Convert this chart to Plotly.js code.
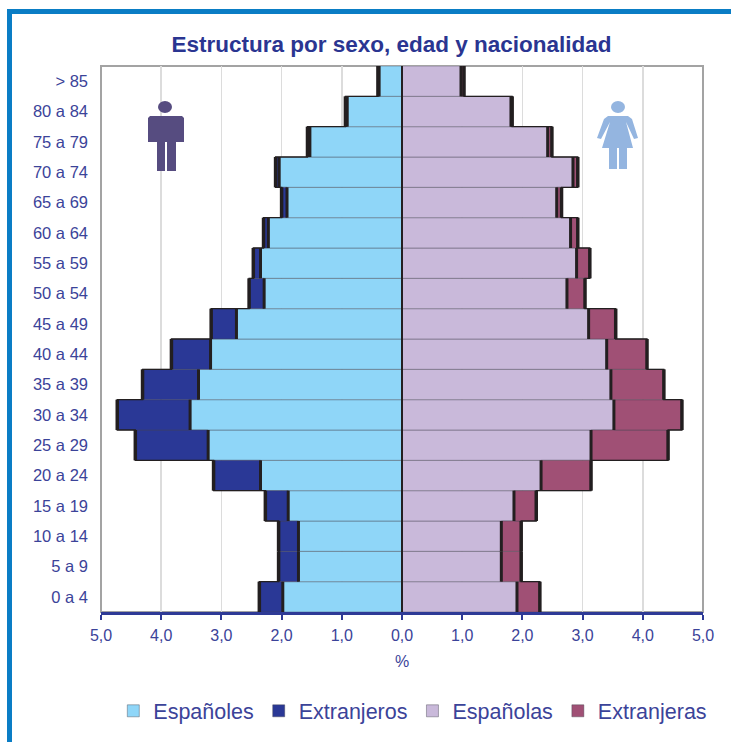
<!DOCTYPE html>
<html><head><meta charset="utf-8">
<script src="https://cdn.plot.ly/plotly-3.0.1.min.js"></script>
<style>
html,body{margin:0;padding:0;background:#fff;width:731px;height:742px;overflow:hidden}
#frame{position:absolute;left:7px;top:9px;width:724px;height:733px;box-sizing:border-box;border-top:5px solid #0a7dc5;border-left:5px solid #0a7dc5}
#plot{position:absolute;left:0;top:0;width:731px;height:742px}
.icon{position:absolute;left:0;top:0;pointer-events:none}
</style></head><body>
<div id="frame"></div>
<div id="plot"></div>
<svg class="icon" width="731" height="742">
  <g fill="#564c80">
    <ellipse cx="165" cy="107" rx="7" ry="6"/>
    <path d="M150 116H182L184 118V142H176V171H167V142H165V171H157V142H148V118Z"/>
  </g>
  <g fill="#94b5e0">
    <ellipse cx="618" cy="107" rx="7" ry="6"/>
    <path d="M608 116H628L632 119L638 138L634 139L626 122L633 148H627V169H619V148H617V169H609V148H602L610 122L601 139L597 138L604 119Z"/>
  </g>
</svg>
<script>
const categories = ['0 a 4','5 a 9','10 a 14','15 a 19','20 a 24','25 a 29','30 a 34','35 a 39','40 a 44','45 a 49','50 a 54','55 a 59','60 a 64','65 a 69','70 a 74','75 a 79','80 a 84','> 85'];
const espanoles   = [1.98,1.72,1.72,1.89,2.35,3.22,3.52,3.38,3.18,2.75,2.29,2.35,2.22,1.91,2.04,1.53,0.91,0.38];
const extranjeros = [0.39,0.33,0.33,0.38,0.78,1.21,1.21,0.93,0.65,0.42,0.25,0.12,0.08,0.09,0.06,0.04,0.03,0.02];
const espanolas   = [1.91,1.65,1.65,1.86,2.31,3.14,3.52,3.47,3.40,3.10,2.74,2.90,2.80,2.57,2.84,2.42,1.81,0.98];
const extranjeras = [0.38,0.33,0.33,0.37,0.83,1.28,1.13,0.88,0.67,0.45,0.30,0.22,0.12,0.08,0.08,0.07,0.02,0.05];
const xTickVals = [-5,-4,-3,-2,-1,0,1,2,3,4,5];
const xTickText = ['5,0','4,0','3,0','2,0','1,0','0,0','1,0','2,0','3,0','4,0','5,0'];

const idx = categories.map((_, i) => i);
const INK = '#231f20', TXT = '#3b4399', SEP = 'rgba(70,70,80,0.42)';
const neg = a => a.map(v => -v);
const add = (a, b) => a.map((v, i) => v + b[i]);
const bar = (name, x, color) => ({type:'bar', orientation:'h', name, x, y:idx, width:1,
  marker:{color, line:{color:SEP, width:1}}, hoverinfo:'x+name'});
const edge = (x, outer) => ({type:'scatter', x, y:idx, mode:'lines', showlegend:false, hoverinfo:'skip',
  line:{shape:'vhv', color:INK, width: outer ? 1.3 : 0},
  error_y:{type:'constant', value:0.5, thickness: outer ? 3.5 : 3, width:0, color:INK}});

const data = [
  bar('Españoles', neg(espanoles), '#8fd6f8'),
  bar('Extranjeros', neg(extranjeros), '#2a3896'),
  bar('Españolas', espanolas, '#c9b9da'),
  bar('Extranjeras', extranjeras, '#a05075'),
  edge(neg(espanoles), false),
  edge(espanolas, false),
  edge(neg(add(espanoles, extranjeros)), true),
  edge(add(espanolas, extranjeras), true)
];
const layout = {
  width:731, height:742, autosize:false,
  paper_bgcolor:'rgba(0,0,0,0)', plot_bgcolor:'#fff',
  margin:{l:100.5, r:28, t:66, b:130},
  barmode:'relative', bargap:0, showlegend:true,
  font:{family:'"Liberation Sans", Arial, sans-serif', color:TXT, size:14},
  title:{text:'Estructura por sexo, edad y nacionalidad', x:0.5355, xanchor:'center', y:0.941, yanchor:'middle',
    font:{size:22.5, color:'#2a3591', weight:'bold'}},
  xaxis:{range:[-5,5], tickmode:'array', tickvals:xTickVals, ticktext:xTickText,
    showgrid:true, gridcolor:'#dcdcdc', gridwidth:1.5, zeroline:false,
    showline:true, linecolor:'#2e3a96', linewidth:3, ticks:'outside', ticklen:5, tickwidth:2, tickcolor:'#2e3a96',
    ticklabelstandoff:2, tickfont:{size:16, color:TXT}, title:{text:'%', standoff:13, font:{size:16, color:TXT}}},
  yaxis:{range:[-0.5,17.5], tickmode:'array', tickvals:idx, ticktext:categories,
    showgrid:false, zeroline:false, showline:false, ticks:'', ticklen:0, ticklabelstandoff:12, tickfont:{size:16.5, color:TXT}},
  shapes:[
    {type:'rect', xref:'paper', yref:'paper', x0:0, x1:1, y0:0, y1:1, line:{color:'#a3a3a3', width:2}, layer:'below'},
    {type:'line', xref:'x', yref:'paper', x0:0, x1:0, y0:0, y1:1, line:{color:INK, width:2}, layer:'above'}
  ],
  legend:{orientation:'h', xref:'container', yref:'container', x:0.155, xanchor:'left', y:0.042, yanchor:'middle', font:{size:21.5, color:TXT},
    bgcolor:'rgba(0,0,0,0)', traceorder:'normal'}
};
Plotly.newPlot('plot', data, layout, {displayModeBar:false, staticPlot:true});
</script>
</body></html>
